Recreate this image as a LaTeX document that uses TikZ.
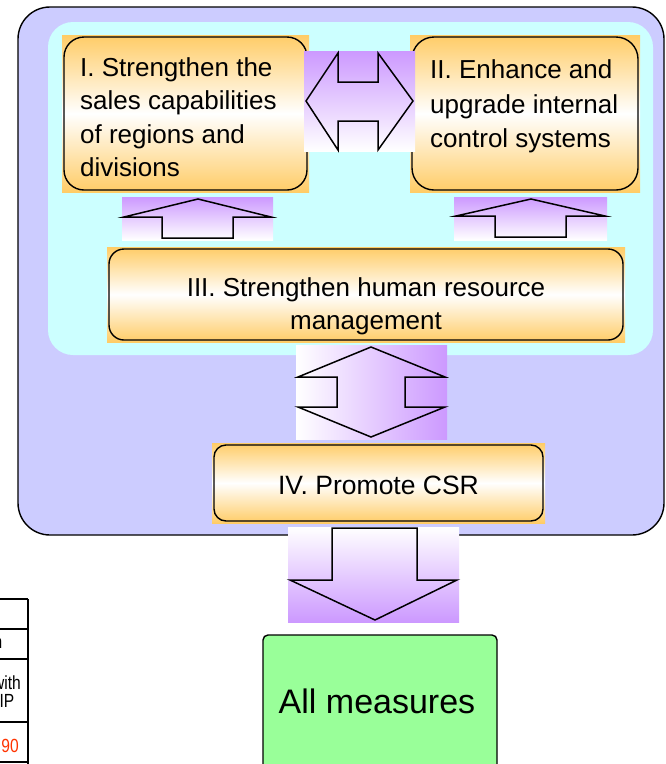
\documentclass[tikz,border=0pt]{standalone}
\usepackage{fontspec}
\setmainfont{Liberation Sans}
\newfontfamily\narrowsans[FakeStretch=0.82]{Liberation Sans}
\definecolor{outerbg}{HTML}{CCCCFF}
\definecolor{innerbg}{HTML}{CCFFFF}
\definecolor{boxorange}{HTML}{FFCC66}
\definecolor{arrowpurple}{HTML}{CC99FF}
\definecolor{allgreen}{HTML}{99FF99}
\definecolor{numred}{HTML}{FF3300}
\begin{document}
\begin{tikzpicture}[x=1pt,y=-1pt,
  orangebg/.style={top color=boxorange, bottom color=boxorange, middle color=white},
  boxborder/.style={draw=black, line width=1.4pt, rounded corners=#1, inner sep=0pt},
  boxtext/.style={font=\fontsize{26}{#1}\selectfont, inner sep=0pt},
  arrowline/.style={draw=black, line width=1.5pt, line join=miter},
  purpleup/.style={top color=arrowpurple, bottom color=white},
  purpledown/.style={top color=white, bottom color=arrowpurple},
  purpleright/.style={left color=white, right color=arrowpurple},
  tableline/.style={draw=black, line width=1.3pt},
  tabletext/.style={font=\narrowsans\fontsize{19}{18}\selectfont, inner sep=0pt}]
\useasboundingbox (0,0) rectangle (666,764);
\clip (0,0) rectangle (666,764);

% outer and inner panels
\node[draw=black, line width=1.4pt, fill=outerbg, rounded corners=32pt, inner sep=0pt,
      minimum width=646pt, minimum height=528pt] (outer) at (341,271) {};
\node[fill=innerbg, rounded corners=25pt, inner sep=0pt,
      minimum width=605pt, minimum height=333pt] (inner) at (350.5,188.5) {};

% box I
\shade[orangebg] (62,35) rectangle (309,192);
\node[boxborder=20pt, minimum width=243pt, minimum height=153pt] (s1) at (185.5,113.5) {};
\node[boxtext=33.4, align=left, anchor=north west] (s1t) at (80,57.2)
  {I. Strengthen the\\sales capabilities\\of regions and\\divisions};

% box II
\shade[orangebg] (410,35) rectangle (640,192);
\node[boxborder=22pt, minimum width=226pt, minimum height=153pt] (s2) at (525,113.5) {};
\node[boxtext=34.8, align=left, anchor=north west] (s2t) at (430,59.2)
  {II. Enhance and\\upgrade internal\\control systems};

% box III
\shade[orangebg] (107,247) rectangle (625,342);
\node[boxborder=15pt, minimum width=514pt, minimum height=91pt] (s3) at (366,294.5) {};
\node[boxtext=33, align=center, anchor=north] (s3t) at (366,277.1)
  {III. Strengthen human resource\\management};

% box IV
\shade[orangebg] (212,443) rectangle (545,523);
\node[boxborder=12pt, minimum width=329pt, minimum height=76pt] (s4) at (378.5,483) {};
\node[font=\fontsize{26.5}{30}\selectfont, inner sep=0pt, anchor=base] (s4t) at (378.5,494) {IV. Promote CSR};

% horizontal double arrow between I and II
\shade[purpleup] (304,51) rectangle (415,151);
\path[arrowline] (306,101) -- (338,53) -- (338,82) -- (378,82) -- (378,53) -- (413,101)
  -- (378,150) -- (378,121) -- (338,121) -- (338,150) -- cycle;

% up arrows
\shade[purpleup] (122,197) rectangle (273,240);
\path[arrowline] (198,199) -- (271,217) -- (233,217) -- (233,238) -- (162,238) -- (162,217)
  -- (124,217) -- cycle;
\shade[purpleup] (454,197) rectangle (607,240);
\path[arrowline] (531,199) -- (605,216) -- (566,216) -- (566,237) -- (495,237) -- (495,216)
  -- (456,216) -- cycle;

% vertical double arrow between III and IV
\shade[purpleright] (296,345) rectangle (447,439);
\path[arrowline] (371,347) -- (445,377) -- (405,377) -- (405,407) -- (445,407) -- (371,437)
  -- (298,407) -- (337,407) -- (337,377) -- (298,377) -- cycle;

% down arrow
\shade[purpledown] (288,527) rectangle (459,622);
\path[arrowline] (332,528) -- (417,528) -- (417,580) -- (457,580) -- (375,620) -- (290,580)
  -- (332,580) -- cycle;

% all measures
\node[draw=black, line width=1.4pt, fill=allgreen, rounded corners=5pt, inner sep=0pt,
      minimum width=234pt, minimum height=170pt] (all) at (380,720) {};
\node[font=\fontsize{34}{40}\selectfont, inner sep=0pt, anchor=base] (allt) at (377,713) {All measures};

% table fragment at the lower left
\coordinate (t0) at (0,599);
\coordinate (t1) at (0,629);
\coordinate (t2) at (0,659);
\coordinate (t3) at (0,722);
\coordinate (t4) at (0,762);
\coordinate (tr0) at (28,599);
\coordinate (tr1) at (28,629);
\coordinate (tr2) at (28,659);
\coordinate (tr3) at (28,722);
\coordinate (tr4) at (28,762);
\coordinate (tbot) at (28,766);
\draw[tableline] (t0) -- (tr0);
\draw[tableline] (t1) -- (tr1);
\draw[tableline] (t2) -- (tr2);
\draw[tableline] (t3) -- (tr3);
\draw[tableline] (t4) -- (tr4);
\draw[tableline] (tr0) -- (tbot);
\node[tabletext, anchor=base east] (c2) at (2.5,648) {n};
\node[tabletext, align=center, anchor=north] (c3) at (6.9,675.5) {with\\IP};
\node[tabletext, anchor=base east, text=numred] (c4) at (19,752) {90};
\end{tikzpicture}
\end{document}
